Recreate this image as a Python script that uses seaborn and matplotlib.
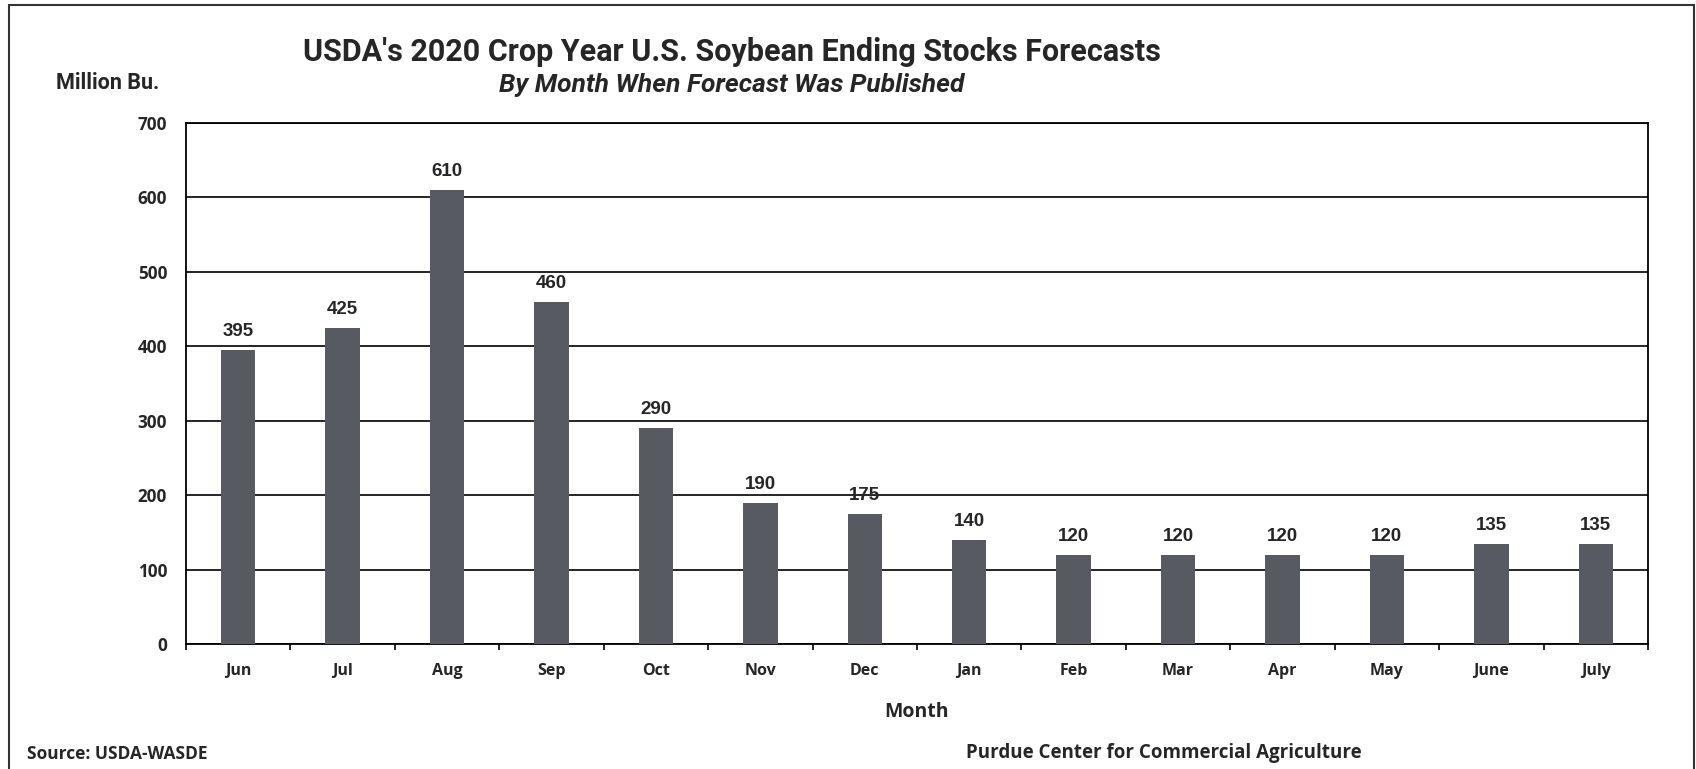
import matplotlib
matplotlib.use("Agg")
import matplotlib.pyplot as plt
import seaborn as sns
import pandas as pd
import numpy as np

months = ["Jun", "Jul", "Aug", "Sep", "Oct", "Nov", "Dec", "Jan", "Feb",
          "Mar", "Apr", "May", "June", "July"]
stocks = [395, 425, 610, 460, 290, 190, 175, 140, 120, 120, 120, 120, 135, 135]
y_ticks = [0, 100, 200, 300, 400, 500, 600, 700]

sns.set_theme(style="white")
plt.rcParams["font.family"] = ["Open Sans", "DejaVu Sans"]

df = pd.DataFrame({"Month": months, "Stocks": stocks})

fig = plt.figure(figsize=(16.96, 7.69), dpi=100)
W, H = 1696, 769
ax = fig.add_axes([186 / W, 1 - 644 / H, (1648 - 186) / W, (644 - 123) / H])

sns.barplot(data=df, x="Month", y="Stocks", color="#575a60", width=0.33,
            saturation=1, ax=ax, zorder=3, linewidth=0)

ax.set_ylim(0, 700)
ax.set_xlim(-0.5, len(months) - 0.5)
ax.set_yticks(y_ticks)
ax.set_yticklabels([str(v) for v in y_ticks], fontsize=12.3, fontweight="bold")
ax.yaxis.grid(True, color="black", linewidth=1.2, zorder=0)
ax.set_axisbelow(True)
ax.tick_params(axis="y", length=0, pad=13.5)

# category labels without ticks, boundary ticks below the axis
ax.set_xticks(range(len(months)))
ax.set_xticklabels(months, fontsize=11.5, fontweight="bold")
ax.tick_params(axis="x", length=0, pad=14)
ax.set_xticks(np.arange(-0.5, len(months) + 0.5, 1), minor=True)
ax.tick_params(axis="x", which="minor", length=4.5, width=1.2, color="black",
               direction="out", bottom=True)

for s in ax.spines.values():
    s.set_color("black")
    s.set_linewidth(1.3)

ax.set_xlabel("Month", fontsize=14, fontweight="bold", labelpad=16)
ax.set_ylabel("")

for i, v in enumerate(stocks):
    ax.annotate(str(v), (i, v), xytext=(0, 7), textcoords="offset points",
                ha="center", va="bottom", fontsize=13.5, fontweight="bold",
                family=["Liberation Sans", "DejaVu Sans"])

fig.text(732 / W, 1 - 52 / H, "USDA's 2020 Crop Year U.S. Soybean Ending Stocks Forecasts",
         ha="center", va="center", fontsize=22, fontweight="bold",
         family=["Roboto", "DejaVu Sans"])
fig.text(732 / W, 1 - 85 / H, "By Month When Forecast Was Published",
         ha="center", va="center", fontsize=19, fontweight="bold", style="italic",
         family=["Roboto", "DejaVu Sans"])
fig.text(108 / W, 1 - 83 / H, "Million Bu.", ha="center", va="center",
         fontsize=15.5, fontweight="bold", family=["Roboto", "DejaVu Sans"])
fig.text(27 / W, 1 - 754 / H, "Source: USDA-WASDE", ha="left", va="center",
         fontsize=12.5, fontweight="bold")
fig.text(1164 / W, 1 - 753 / H, "Purdue Center for Commercial Agriculture",
         ha="center", va="center", fontsize=13.5, fontweight="bold")

# outer frame of the figure
fig.add_artist(plt.Rectangle((9 / W, -0.01), (1696 - 11) / W, 1 - 5 / H + 0.01,
                             transform=fig.transFigure, fill=False,
                             edgecolor="#333333", linewidth=1.5))

fig.savefig("out.png", dpi=100)
